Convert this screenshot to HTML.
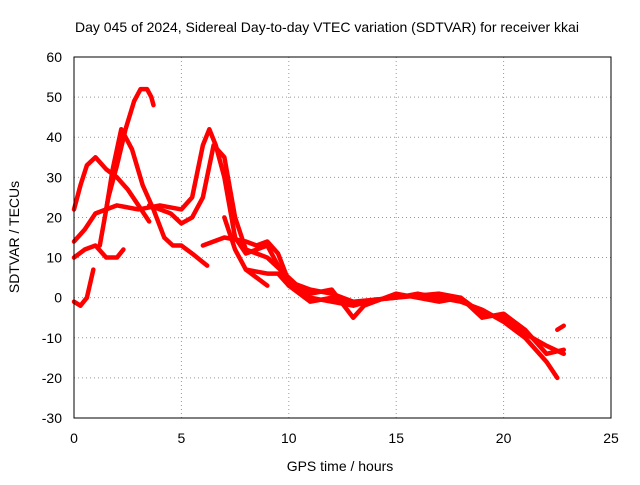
<!DOCTYPE html>
<html><head><meta charset="utf-8"><style>
body{margin:0;background:#fff;font-family:"Liberation Sans",sans-serif}
text{font-family:"Liberation Sans",sans-serif;font-size:14px;fill:#000}
</style></head><body>
<svg width="640" height="480" id="svg">
<rect width="640" height="480" fill="#fff"/>
<text x="327" y="32" text-anchor="middle">Day 045 of 2024, Sidereal Day-to-day VTEC variation (SDTVAR) for receiver kkai</text>
<text x="340" y="471" text-anchor="middle">GPS time / hours</text>
<text transform="translate(19,237) rotate(-90)" text-anchor="middle">SDTVAR / TECUs</text>
<g id="grid"></g><g id="series"></g>
<rect x="74" y="57" width="537" height="361" fill="none" stroke="#000"/>
</svg>
<script>
const xTicks=[0,5,10,15,20,25];
const yTicks=[-30,-20,-10,0,10,20,30,40,50,60];
const trackA=[[0,22],[0.3,28],[0.6,33],[1,35],[1.5,32],[2,30],[2.5,27],[3,23],[3.5,19]];
const trackB=[[1.2,13],[1.6,25],[2,33],[2.4,42],[2.8,49],[3.1,52],[3.4,52],[3.6,50],[3.7,48]];
const trackC=[[0,14],[0.5,17],[1,21],[1.5,22],[1.8,32],[2.2,42],[2.7,37],[3.2,28],[3.7,22],[4.2,15],[4.6,13],[5,13],[5.5,11],[6.2,8]];
const trackD=[[0,10],[0.5,12],[1,13],[1.5,10],[2,10],[2.3,12]];
const trackE=[[0,-1],[0.3,-2],[0.6,0],[0.9,7]];
const trackF=[[1,21],[2,23],[3,22],[4,23],[5,22],[5.5,25],[6,38],[6.3,42],[6.6,38],[7,30],[7.5,15],[8,11],[9,13],[9.5,8],[10,3],[11,1],[12,2],[13,-5],[13.5,-2],[14,-1],[15,1],[16,0],[17,-1],[18,0],[19,-5],[20,-4],[21,-8],[22,-14],[22.8,-13]];
const trackG=[[3.5,23],[4,22],[4.5,21],[5,18.5],[5.5,20],[6,25],[6.5,38],[7,35],[7.5,20],[8,12],[9,10],[10,5],[11,0],[12,-1],[13,-2],[14,-0.5],[15,0],[16,1],[17,0],[18,-1],[19,-3],[20,-6],[21,-10],[22,-16],[22.5,-20]];
const trackH=[[6,13],[7,15],[8,14],[8.5,13],[9,14],[9.5,11],[10,4],[11,2],[12,1],[13,-1],[15,0],[17,1],[18,0],[19,-4],[20,-5],[21,-9],[22,-12],[22.8,-14]];
const trackI=[[7,20],[7.5,12],[8,7],[8.5,5],[9,3]];
const trackJ=[[8,7],[9,6],[9.5,6],[10,3],[11,-1],[12,0],[13,-1]];
const trackK=[[22.5,-8],[22.8,-7]];
const tracks=[trackA,trackB,trackC,trackD,trackE,trackF,trackG,trackH,trackI,trackJ,trackK];
const X=v=>74+v*537/25, Y=v=>418-(v+30)*361/90;
const ns="http://www.w3.org/2000/svg";
const g=document.getElementById('grid'), s=document.getElementById('series');
xTicks.forEach(t=>{
 const l=document.createElementNS(ns,'line');
 
 
 l.setAttribute('x1',X(t));l.setAttribute('x2',X(t));l.setAttribute('y1',57);l.setAttribute('y2',418);
 l.setAttribute('stroke','#999');l.setAttribute('stroke-dasharray','1,3');g.appendChild(l);
 const tx=document.createElementNS(ns,'text');
 
 
 tx.setAttribute('x',X(t));tx.setAttribute('y',443);tx.setAttribute('text-anchor','middle');tx.textContent=t;g.appendChild(tx);
});
yTicks.forEach(t=>{
 const l=document.createElementNS(ns,'line');
 
 
 l.setAttribute('x1',74);l.setAttribute('x2',611);l.setAttribute('y1',Y(t));l.setAttribute('y2',Y(t));
 l.setAttribute('stroke','#999');l.setAttribute('stroke-dasharray','1,3');g.appendChild(l);
 const tx=document.createElementNS(ns,'text');
 
 
 tx.setAttribute('x',62);tx.setAttribute('y',Y(t)+5);tx.setAttribute('text-anchor','end');tx.textContent=t;g.appendChild(tx);
});
tracks.forEach(tr=>{
 const p=document.createElementNS(ns,'polyline');
 
 
 p.setAttribute('points',tr.map(d=>X(d[0])+','+Y(d[1])).join(' '));
 p.setAttribute('fill','none');p.setAttribute('stroke','#f00');p.setAttribute('stroke-width','4.5');
 p.setAttribute('stroke-linejoin','round');p.setAttribute('stroke-linecap','round');
 s.appendChild(p);
});
</script>
</body></html>
